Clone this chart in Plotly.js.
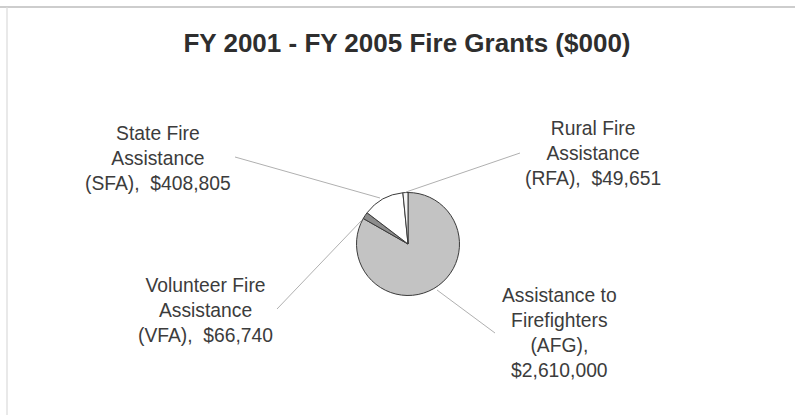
<!DOCTYPE html>
<html>
<head>
<meta charset="utf-8">
<script src="https://cdn.plot.ly/plotly-3.0.1.min.js"></script>
<style>html,body{margin:0;padding:0;background:#fff;}#chart{width:795px;height:415px;}</style>
</head>
<body>
<div id="chart"></div>
<script>
// Data (clockwise from 12 o'clock)
const categories = ["Assistance to Firefighters (AFG)", "Volunteer Fire Assistance (VFA)", "State Fire Assistance (SFA)", "Rural Fire Assistance (RFA)"];
const values = [2610000, 66740, 408805, 49651];
const sliceColors = ["#c3c3c3", "#8c8c8c", "#ffffff", "#f6f6f6"];
const labelTexts = [
  "Assistance to<br>Firefighters<br>(AFG),<br>$2,610,000",
  "Volunteer Fire<br>Assistance<br>(VFA),\u00a0 $66,740",
  "State Fire<br>Assistance<br>(SFA),\u00a0 $408,805",
  "Rural Fire<br>Assistance<br>(RFA),\u00a0 $49,651"
];
const W = 795, H = 415;
// label centers and leader lines (pixels)
const labelPos = [[559, 333], [205, 310], [158, 158], [593, 153]];
const leaders = [[[495,333],[437,290]], [[277,309],[362,220]], [[235,157],[380,198]], [[520,153],[406,192]]];

const px = x => x / W, py = y => 1 - y / H;
const cx = 408, cy = 244, r = 51.5;

const trace = {
  type: "pie",
  labels: categories,
  values: values,
  sort: false,
  direction: "clockwise",
  rotation: 0,
  textinfo: "none",
  hoverinfo: "label+value",
  marker: { colors: sliceColors, line: { color: "#3a3a3a", width: 1 } },
  domain: { x: [px(cx - r), px(cx + r)], y: [py(cy + r), py(cy - r)] },
  showlegend: false
};

const annotations = labelTexts.map((t, i) => ({
  xref: "paper", yref: "paper",
  x: px(labelPos[i][0]), y: py(labelPos[i][1]),
  xanchor: "center", yanchor: "middle",
  text: t, showarrow: false, align: "center",
  font: { family: "Liberation Sans, Arial, sans-serif", size: 19.3, color: "#3c3c3c" }
}));

const shapes = leaders.map(l => ({
  type: "line", xref: "paper", yref: "paper",
  x0: px(l[0][0]), y0: py(l[0][1]), x1: px(l[1][0]), y1: py(l[1][1]),
  line: { color: "#b0b0b0", width: 1 }
}));
shapes.push({ type: "line", xref: "paper", yref: "paper", x0: 0, x1: 1, y0: py(7), y1: py(7), line: { color: "#bdbdbd", width: 1.5 } });
shapes.push({ type: "line", xref: "paper", yref: "paper", x0: px(7), x1: px(7), y0: 0, y1: py(7), line: { color: "#dadada", width: 1.2 } });

const layout = {
  width: W, height: H,
  margin: { l: 0, r: 0, t: 0, b: 0 },
  paper_bgcolor: "#ffffff",
  title: {
    text: "<b>FY 2001 - FY 2005 Fire Grants ($000)</b>",
    x: px(407), y: py(43), xanchor: "center", yanchor: "middle",
    font: { family: "Liberation Sans, Arial, sans-serif", size: 26, color: "#2e2e2e" }
  },
  annotations: annotations,
  shapes: shapes
};

Plotly.newPlot("chart", [trace], layout, { displayModeBar: false, staticPlot: true });
</script>
</body>
</html>
